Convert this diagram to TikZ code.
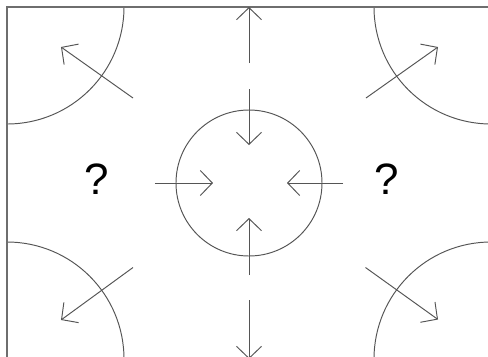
\documentclass[tikz,border=0pt]{standalone}
\usepackage{fontspec}
\setmainfont{Liberation Sans}
\usepackage{xcolor}
\usepackage{tikz}
\usetikzlibrary{arrows.meta}
\definecolor{inkgray}{RGB}{85, 85, 85}
\definecolor{framegray}{RGB}{110, 110, 110}

\tikzset{
  flowline/.style={inkgray, line width=0.55pt, -{Straight Barb[length=2.4mm, width=5mm]}},
  arcline/.style={inkgray, line width=0.55pt},
  qmark/.style={font=\fontsize{25}{30}\selectfont, inner sep=0pt}
}

\begin{document}
\begin{tikzpicture}
\useasboundingbox (-4.98,-3.46) rectangle (4.78,3.66);
\clip (-4.98,-3.46) rectangle (4.78,3.66);
% Frame (only left and top edges fall inside the view) and corner arcs
\begin{scope}
\clip (-4.84,-3.52) rectangle (4.84,3.52);
\draw[arcline] (-4.84,3.52) circle (2.34);
\draw[arcline] (4.84,3.52) circle (2.34);
\draw[arcline] (-4.84,-3.52) circle (2.34);
\draw[arcline] (4.84,-3.52) circle (2.34);
\end{scope}
\draw[framegray, line width=0.85pt] (-4.84,-3.60) -- (-4.84,3.52) -- (4.90,3.52);

% Central ring
\node[draw=inkgray, line width=0.55pt, circle, minimum size=2.92cm, inner sep=0pt] (ring) at (0,0) {};

% Question marks
\node[qmark] (qleft) at (-3.04,0.08) {?};
\node[qmark] (qright) at (2.75,0.08) {?};

% Arrow end points
\coordinate (topin) at (0,1.88);      \coordinate (toptip) at (0,0.76);
\coordinate (botin) at (0,-1.84);     \coordinate (bottip) at (0,-0.70);
\coordinate (leftin) at (-1.88,0);    \coordinate (lefttip) at (-0.72,0);
\coordinate (rightin) at (1.88,0);    \coordinate (righttip) at (0.76,0);
\coordinate (topout) at (0,2.40);     \coordinate (topedge) at (0,3.52);
\coordinate (botout) at (0,-2.34);    \coordinate (botedge) at (0,-3.52);
\coordinate (tlin) at (-2.32,1.70);   \coordinate (tltip) at (-3.76,2.72);
\coordinate (trin) at (2.34,1.70);    \coordinate (trtip) at (3.78,2.72);
\coordinate (blin) at (-2.32,-1.69);  \coordinate (bltip) at (-3.76,-2.74);
\coordinate (brin) at (2.33,-1.69);   \coordinate (brtip) at (3.78,-2.73);

% Inward arrows
\draw[flowline] (topin) -- (toptip);
\draw[flowline] (botin) -- (bottip);
\draw[flowline] (leftin) -- (lefttip);
\draw[flowline] (rightin) -- (righttip);

% Outward arrows
\draw[flowline] (topout) -- (topedge);
\draw[flowline] (botout) -- (botedge);
\draw[flowline] (tlin) -- (tltip);
\draw[flowline] (trin) -- (trtip);
\draw[flowline] (blin) -- (bltip);
\draw[flowline] (brin) -- (brtip);
\end{tikzpicture}
\end{document}
